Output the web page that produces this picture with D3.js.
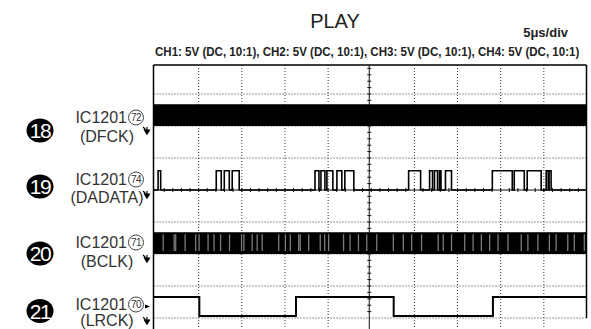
<!DOCTYPE html>
<html>
<head>
<meta charset="utf-8">
<script src="https://cdn.jsdelivr.net/npm/d3@7"></script>
<style>
body { margin: 0; background: #fff; }
svg { display: block; font-family: "Liberation Sans", Arial, sans-serif; }
</style>
</head>
<body>
<div id="svgWrapper"></div>
<script>
"use strict"
//scope settings
var title = "PLAY";
var timeBase = "5\u03bcs/div";
var channelHeader = "CH1: 5V (DC, 10:1), CH2: 5V (DC, 10:1), CH3: 5V (DC, 10:1), CH4: 5V (DC, 10:1)";
var timePerDiv = 5;      // µs
var voltPerDiv = 5;      // V
var timeDivs = 10;
var voltDivs = 8;

var channelNumbers = ["18", "19", "20", "21"];
var channelIC = ["IC1201", "IC1201", "IC1201", "IC1201"];
var pinNumbers = ["72", "74", "71", "70"];
var channelNames = ["(DFCK)", "(DADATA)", "(BCLK)", "(LRCK)"];
var groundDiv = [2, 4, 6, 7.94];        // ground level of each trace, div from top
var highVolts = [3.4, 3.0, 3.4, 3.0];   // logic high level, V

//DADATA pulses [start, end] in µs
var dadataPulses = [
    [0.30, 0.60],
    [7.04, 7.62], [7.97, 8.55], [8.89, 9.70],
    [18.48, 18.94], [19.17, 19.63], [19.86, 20.55], [21.02, 21.59], [21.94, 22.98],
    [29.33, 30.72], [31.76, 32.10], [32.33, 32.68], [32.91, 33.08], [33.60, 34.30],
    [39.03, 41.34], [41.57, 42.73], [43.07, 44.69], [45.27, 45.50], [45.61, 45.84]
];

//LRCK: starts high, toggles at these times (µs)
var lrckEdges = [5.08, 16.28, 27.60, 39.10];

//BCLK is too fast to resolve: solid band with light aliasing streaks at these times (µs)
var bclkStreaks = [0.89, 2.16, 2.34, 3.43, 4.65, 5.05, 6.09, 6.78, 7.54, 8.58, 9.97, 10.24,
    11.20, 11.78, 12.36, 14.28, 15.05, 15.62, 16.59, 16.78, 17.75, 19.09, 19.60, 20.06,
    21.79, 22.55, 23.52, 24.48, 25.64, 27.56, 28.72, 29.68, 30.83, 32.76, 33.34, 34.30,
    35.83, 36.80, 37.76, 38.72, 39.69, 40.84, 42.38, 43.15, 44.31, 45.64, 46.42, 47.77,
    48.53, 49.69];

//label placement (px)
var labelLine1 = [123, 185, 248, 310];
var labelLine2 = [141.5, 203, 266.5, 326];
var badgeY = [130.5, 186.5, 253.5, 311];

function stepPath(edges, startHigh, tEnd, xScale, yLow, yHigh) {
    let pts = [];
    let high = startHigh;
    pts.push([xScale(0) - 3, high ? yHigh : yLow]);
    for (let i = 0; i < edges.length; i++) {
        pts.push([xScale(edges[i]), high ? yHigh : yLow]);
        high = !high;
        pts.push([xScale(edges[i]), high ? yHigh : yLow]);
    }
    pts.push([xScale(tEnd), high ? yHigh : yLow]);
    return d3.line()(pts);
}

function drawScope() {
    var fullWidth = 591;
    var fullHeight = 329;
    const svg = d3.select("#svgWrapper").append("svg")
        .attr("width", fullWidth).attr("height", fullHeight);

    var tMax = timePerDiv * timeDivs;
    var xScale = d3.scaleLinear().domain([0, tMax]).range([155.5, 587]);
    var yScale = d3.scaleLinear().domain([0, voltDivs]).range([62, 318]);
    var left = xScale(0) - 2, right = xScale(tMax) - 0.5, top = 65;
    var centerX = xScale(tMax / 2) - 2;

    //texts on top
    svg.append("text").attr("x", 335).attr("y", 28).attr("text-anchor", "middle")
        .attr("font-size", 20).attr("fill", "#222").text(title);
    svg.append("text").attr("x", 568).attr("y", 37).attr("text-anchor", "end")
        .attr("font-size", 13).attr("font-weight", "bold").attr("fill", "#222")
        .text(timeBase);
    //header is a condensed face: squeeze it horizontally to the measured width
    var header = svg.append("g");
    var headerText = header.append("text").attr("x", 0).attr("y", 0)
        .attr("font-family", "'Liberation Sans Narrow', 'Arial Narrow', 'Liberation Sans', sans-serif")
        .attr("font-size", 12.5).attr("font-weight", "bold").attr("fill", "#222")
        .text(channelHeader);
    var natural = headerText.node().getComputedTextLength();
    header.attr("transform", "translate(155,56) scale(" + (425 / natural) + ",1)");

    svg.append("clipPath").attr("id", "screen").append("rect")
        .attr("x", left).attr("y", top).attr("width", right - left).attr("height", fullHeight - top);

    var grid = svg.append("g").attr("id", "grid");
    var traces = svg.append("g").attr("id", "traces").attr("clip-path", "url(#screen)");
    var frame = svg.append("g").attr("id", "frame");
    var labels = svg.append("g").attr("id", "labels");

    //dotted graticule
    for (let k = 1; k < timeDivs; k++) {
        if (k == timeDivs / 2) continue;
        grid.append("line").attr("x1", xScale(k * timePerDiv)).attr("x2", xScale(k * timePerDiv))
            .attr("y1", top).attr("y2", fullHeight)
            .attr("stroke", "#333").attr("stroke-width", 1).attr("stroke-dasharray", "1,2");
    }
    for (let k = 1; k <= voltDivs; k++) {
        if (k == voltDivs / 2) continue;
        grid.append("line").attr("x1", left).attr("x2", right)
            .attr("y1", yScale(k)).attr("y2", yScale(k))
            .attr("stroke", "#333").attr("stroke-width", 1).attr("stroke-dasharray", "1,2");
    }
    //centre axes with minor ticks
    grid.append("line").attr("x1", centerX).attr("x2", centerX).attr("y1", top).attr("y2", fullHeight)
        .attr("stroke", "#111").attr("stroke-width", 1);
    grid.append("line").attr("x1", left).attr("x2", right)
        .attr("y1", yScale(voltDivs / 2)).attr("y2", yScale(voltDivs / 2))
        .attr("stroke", "#111").attr("stroke-width", 1);
    for (let k = 1; k < voltDivs * 5; k++) {
        grid.append("line").attr("x1", centerX - 2).attr("x2", centerX + 2)
            .attr("y1", yScale(k / 5)).attr("y2", yScale(k / 5))
            .attr("stroke", "#111").attr("stroke-width", 1);
    }
    for (let k = 1; k < timeDivs * 5; k++) {
        grid.append("line").attr("x1", xScale(k * timePerDiv / 5)).attr("x2", xScale(k * timePerDiv / 5))
            .attr("y1", yScale(voltDivs / 2) - 2).attr("y2", yScale(voltDivs / 2) + 2)
            .attr("stroke", "#111").attr("stroke-width", 1);
    }

    //traces
    var yLow = groundDiv.map(g => yScale(g));
    var yHigh = groundDiv.map((g, i) => yScale(g - highVolts[i] / voltPerDiv));

    //DFCK: solid band
    traces.append("rect").attr("x", left).attr("width", right - left)
        .attr("y", yHigh[0]).attr("height", yLow[0] - yHigh[0]).attr("fill", "#000");

    //DADATA
    var dEdges = [];
    dadataPulses.forEach(p => { dEdges.push(p[0]); dEdges.push(p[1]); });
    traces.append("path")
        .attr("d", stepPath(dEdges, false, tMax, xScale, yLow[1], yHigh[1]))
        .attr("fill", "none").attr("stroke", "#000").attr("stroke-width", 1.6);

    //BCLK
    traces.append("rect").attr("x", left).attr("width", right - left)
        .attr("y", yHigh[2]).attr("height", yLow[2] - yHigh[2]).attr("fill", "#000");
    traces.selectAll(".streak").data(bclkStreaks).enter().append("line")
        .attr("x1", d => xScale(d)).attr("x2", d => xScale(d))
        .attr("y1", yHigh[2] + 2).attr("y2", yLow[2] - 3)
        .attr("stroke", "#ccc").attr("stroke-opacity", 0.6).attr("stroke-width", 1.3);

    //LRCK
    traces.append("path")
        .attr("d", stepPath(lrckEdges, true, tMax, xScale, yLow[3], yHigh[3]))
        .attr("fill", "none").attr("stroke", "#000").attr("stroke-width", 2);

    //frame
    frame.append("line").attr("x1", left).attr("x2", right).attr("y1", top).attr("y2", top)
        .attr("stroke", "#000").attr("stroke-width", 1.5);
    frame.append("line").attr("x1", left).attr("x2", left).attr("y1", top).attr("y2", fullHeight)
        .attr("stroke", "#000").attr("stroke-width", 1.5);
    frame.append("line").attr("x1", right).attr("x2", right).attr("y1", top).attr("y2", yScale(voltDivs))
        .attr("stroke", "#000").attr("stroke-width", 1.5);

    //channel labels
    for (let i = 0; i < channelNames.length; i++) {
        let base = labelLine1[i];
        let g = labels.append("g");
        g.append("ellipse").attr("cx", 40).attr("cy", badgeY[i]).attr("rx", 13.5).attr("ry", 12)
            .attr("fill", "#000");
        g.append("text").attr("x", 40).attr("y", badgeY[i] + 7.5).attr("text-anchor", "middle")
            .attr("font-size", 21).attr("letter-spacing", -1.5).attr("fill", "#fff")
            .text(channelNumbers[i]);
        g.append("text").attr("x", 127).attr("y", base).attr("text-anchor", "end")
            .attr("font-size", 16).attr("fill", "#333").text(channelIC[i]);
        g.append("circle").attr("cx", 136).attr("cy", base - 5.5).attr("r", 7.5)
            .attr("fill", "none").attr("stroke", "#444").attr("stroke-width", 1);
        g.append("text").attr("x", 136).attr("y", base - 2).attr("text-anchor", "middle")
            .attr("font-size", 10).attr("letter-spacing", -0.6).attr("fill", "#333").text(pinNumbers[i]);
        g.append("text").attr("x", 107).attr("y", labelLine2[i]).attr("text-anchor", "middle")
            .attr("font-size", 16).attr("fill", "#333").text(channelNames[i]);
        //ground marker
        let gy = yLow[i] + 1;
        g.append("path")
            .attr("d", "M147," + gy + "L147," + (gy + 5) + "M144.5," + (gy + 3) + "L149.5," + (gy + 3) + "L147," + (gy + 7) + "Z"
                + "M143," + gy + "L145.5," + (gy + 2.5))
            .attr("fill", "#000").attr("stroke", "#000").attr("stroke-width", 1.2);
    }
    //trigger marker on LRCK
    let ty = (yLow[3] + yHigh[3]) / 2;
    labels.append("path")
        .attr("d", "M145," + (ty - 2) + "L150," + ty + "L145," + (ty + 2) + "Z")
        .attr("fill", "#000");
}

function init() {
    drawScope();
}

window.onload = init;
</script>
</body>
</html>
